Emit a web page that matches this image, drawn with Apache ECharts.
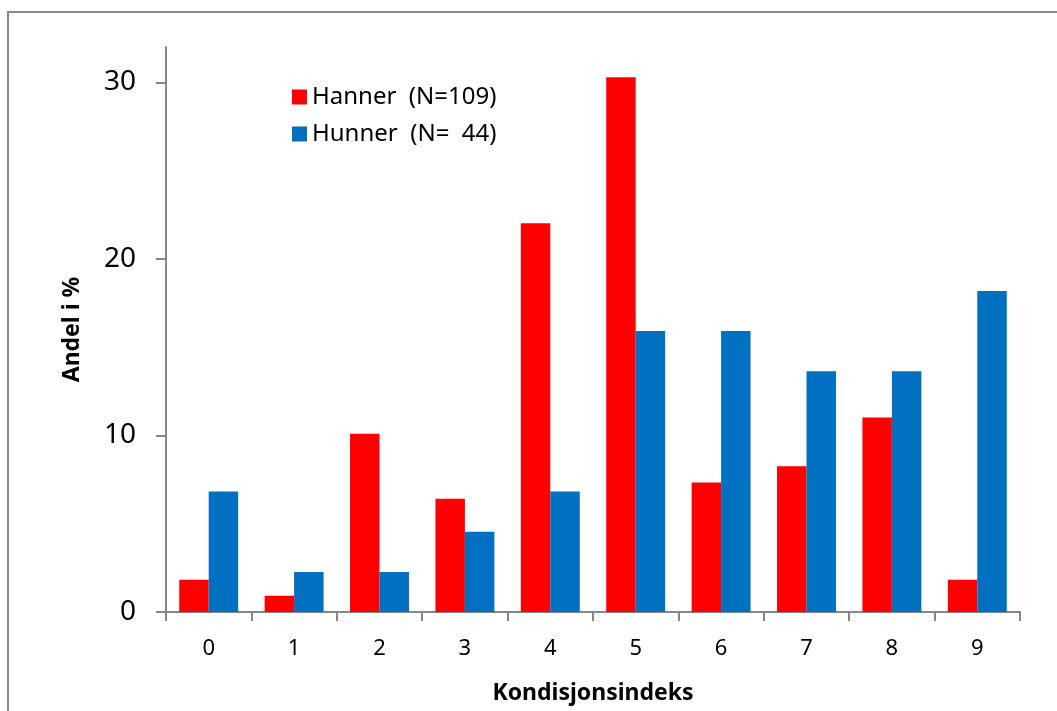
<!DOCTYPE html>
<html>
<head>
<meta charset="utf-8">
<script src="https://cdn.jsdelivr.net/npm/echarts@6/dist/echarts.min.js"></script>
<style>
html,body{margin:0;padding:0;background:#fff;}
#c{width:1057px;height:711px;}
</style>
</head>
<body>
<div id="c"></div>
<script>
const categories = ['0','1','2','3','4','5','6','7','8','9'];
const hanner = [1.83, 0.92, 10.09, 6.42, 22.02, 30.28, 7.34, 8.26, 11.01, 1.83];
const hunner = [6.82, 2.27, 2.27, 4.55, 6.82, 15.91, 15.91, 13.64, 13.64, 18.18];
const yTicks = [0, 10, 20, 30];
const seriesNames = ['Hanner  (N=109)', 'Hunner  (N=  44)'];

const chart = echarts.init(document.getElementById('c'));
const axisColor = '#868686';
const font = 'Noto Sans';
chart.setOption({
  animation: false,
  graphic: [{
    type: 'rect',
    shape: {x: 8, y: 12, width: 1200, height: 900},
    style: {fill: 'none', stroke: '#8a8a8a', lineWidth: 2},
    silent: true, z: -1
  }],
  grid: {left: 166, top: 47, right: 37, bottom: 99, outerBoundsMode: 'none', containLabel: false},
  legend: {
    orient: 'vertical',
    left: 287, top: 80,
    itemWidth: 15, itemHeight: 15, itemGap: 13,
    icon: 'rect',
    textStyle: {fontFamily: font, fontSize: 24, color: '#000'},
    data: seriesNames
  },
  xAxis: {
    type: 'category',
    data: categories,
    name: 'Kondisjonsindeks',
    nameLocation: 'middle',
    nameGap: 70,
    nameTextStyle: {fontFamily: font, fontSize: 23, fontWeight: 'bold', color: '#000'},
    axisLine: {lineStyle: {color: axisColor, width: 2}},
    axisTick: {show: true, length: 9, lineStyle: {color: axisColor, width: 2}},
    axisLabel: {fontFamily: font, fontSize: 22, color: '#000', margin: 26}
  },
  yAxis: {
    type: 'value',
    min: 0, max: 32,
    name: 'Andel i %',
    nameLocation: 'middle',
    nameGap: 82,
    nameRotate: 90,
    nameTextStyle: {fontFamily: font, fontSize: 23, fontWeight: 'bold', color: '#000'},
    splitLine: {show: false},
    axisLine: {show: true, lineStyle: {color: axisColor, width: 2}},
    axisTick: {show: true, length: 10, customValues: yTicks, lineStyle: {color: axisColor, width: 2}},
    axisLabel: {fontFamily: font, fontSize: 28, color: '#000', margin: 30, customValues: yTicks}
  },
  series: [
    {name: seriesNames[0], type: 'bar', data: hanner, itemStyle: {color: '#FF0000'},
     barGap: '0%', barCategoryGap: '31%'},
    {name: seriesNames[1], type: 'bar', data: hunner, itemStyle: {color: '#0070C0'},
     barGap: '0%', barCategoryGap: '31%'}
  ]
});
</script>
</body>
</html>
